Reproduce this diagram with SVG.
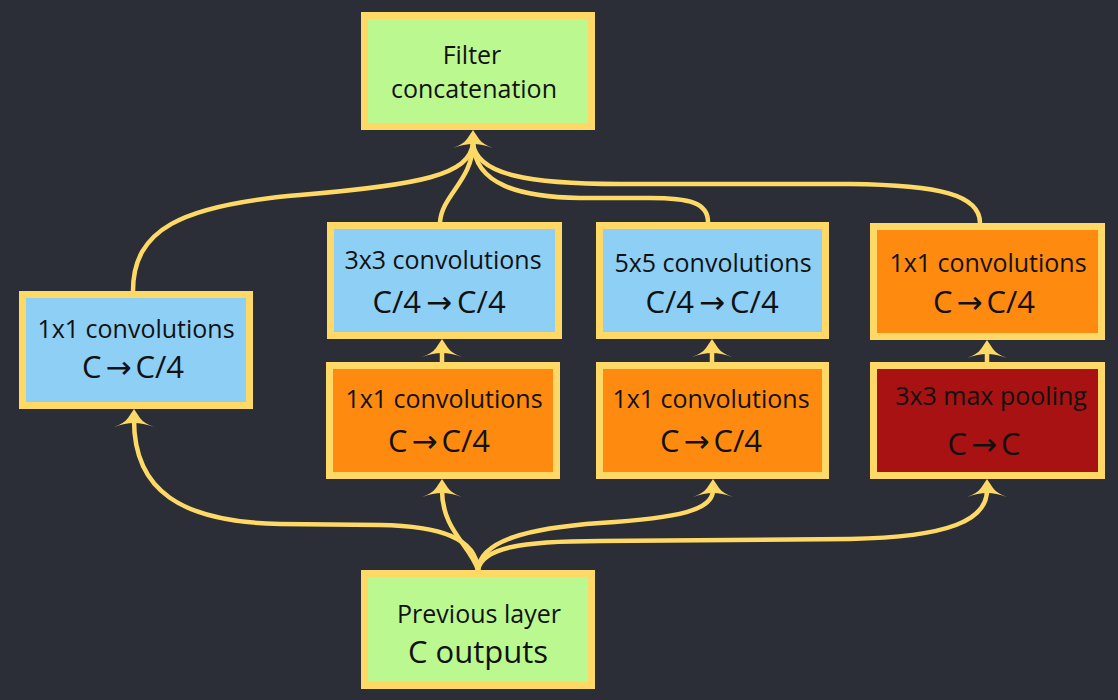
<svg xmlns="http://www.w3.org/2000/svg" width="1118" height="700" viewBox="0 0 1118 700">
<style>
.box{stroke:#FFD966;stroke-width:7}
.green{fill:#BBF990}
.blue{fill:#8ECFF5}
.orange{fill:#FF8A10}
.red{fill:#A81212}
.t{font-family:"Open Sans","DejaVu Sans",sans-serif;font-size:25px;fill:#111;text-anchor:middle}
.b{font-size:31px}
.c{fill:none;stroke:#FFD966;stroke-width:4.5;stroke-linecap:round}
.ah{fill:#FFD966}
</style>
<defs>
<path id="ah" d="M0,0 L6,9 Q10,14.5 20,18 Q9,14 0,14 Q-9,14 -20,18 Q-10,14.5 -6,9 Z"/>
</defs>
<rect width="1118" height="700" fill="#2B2E36"/>
<g id="connectors">
<path class="c" d="M133,291 C133,230 180,205 300,195 C420,185 470,175 473,143"/>
<path class="c" d="M440,222 C442,195 473,180 473,143"/>
<path class="c" d="M708,222 C708,203 690,198 650,198 L580,198 C520,197 475,185 473,143"/>
<path class="c" d="M980,223 C980,195 940,185 850,184 L620,184 C530,184 476,175 473,143"/>
<path class="c" d="M442,362 L442,350"/>
<path class="c" d="M712,362 L712,350"/>
<path class="c" d="M987,362 L987,351"/>
<path class="c" d="M478,570 C476,538 440,526 380,525 L280,524 C180,522 134,490 134,420"/>
<path class="c" d="M478,570 C470,545 442,530 442,490"/>
<path class="c" d="M478,570 C480,540 530,528 600,523 C680,518 713,510 713,490"/>
<path class="c" d="M478,570 C482,548 520,541 600,541 L850,539 C950,537 987,520 987,490"/>
<g class="ah">
<use href="#ah" x="473" y="130"/>
<use href="#ah" x="442" y="339"/>
<use href="#ah" x="712" y="339"/>
<use href="#ah" x="987" y="340"/>
<use href="#ah" x="134" y="409"/>
<use href="#ah" x="442" y="479"/>
<use href="#ah" x="713" y="479"/>
<use href="#ah" x="987" y="479"/>
</g>
</g>
<g id="filter-concat">
<rect class="box green" x="364.5" y="15.5" width="227" height="111"/>
<text class="t" x="472" y="64">Filter</text>
<text class="t" x="474" y="98">concatenation</text>
</g>
<g id="conv1x1-a">
<rect class="box blue" x="22.5" y="294.5" width="227" height="111"/>
<text class="t" x="136" y="338">1x1 convolutions</text>
<text class="t b" x="133" y="378">C<tspan dx="4">→</tspan><tspan dx="4">C/4</tspan></text>
</g>
<g id="conv3x3">
<rect class="box blue" x="330.5" y="225.5" width="228" height="110"/>
<text class="t" x="443" y="269">3x3 convolutions</text>
<text class="t b" x="439" y="313">C/4<tspan dx="5">→</tspan><tspan dx="5">C/4</tspan></text>
</g>
<g id="conv1x1-b">
<rect class="box orange" x="329.5" y="365.5" width="227" height="110"/>
<text class="t" x="444" y="408">1x1 convolutions</text>
<text class="t b" x="439" y="452">C<tspan dx="4">→</tspan><tspan dx="4">C/4</tspan></text>
</g>
<g id="conv5x5">
<rect class="box blue" x="599.5" y="225.5" width="226" height="110"/>
<text class="t" x="713" y="272">5x5 convolutions</text>
<text class="t b" x="712" y="313">C/4<tspan dx="5">→</tspan><tspan dx="5">C/4</tspan></text>
</g>
<g id="conv1x1-c">
<rect class="box orange" x="599.5" y="365.5" width="226" height="110"/>
<text class="t" x="711" y="408">1x1 convolutions</text>
<text class="t b" x="711" y="452">C<tspan dx="4">→</tspan><tspan dx="4">C/4</tspan></text>
</g>
<g id="conv1x1-d">
<rect class="box orange" x="873.5" y="226.5" width="228" height="110"/>
<text class="t" x="988" y="272">1x1 convolutions</text>
<text class="t b" x="984" y="313">C<tspan dx="4">→</tspan><tspan dx="4">C/4</tspan></text>
</g>
<g id="maxpool">
<rect class="box red" x="873.5" y="365.5" width="228" height="110"/>
<text class="t" x="991" y="405">3x3 max pooling</text>
<text class="t b" x="984" y="455">C<tspan dx="4">→</tspan><tspan dx="4">C</tspan></text>
</g>
<g id="previous-layer">
<rect class="box green" x="364.5" y="573.5" width="227" height="112"/>
<text class="t" x="479" y="623">Previous layer</text>
<text class="t b" x="478" y="663">C outputs</text>
</g>
</svg>
